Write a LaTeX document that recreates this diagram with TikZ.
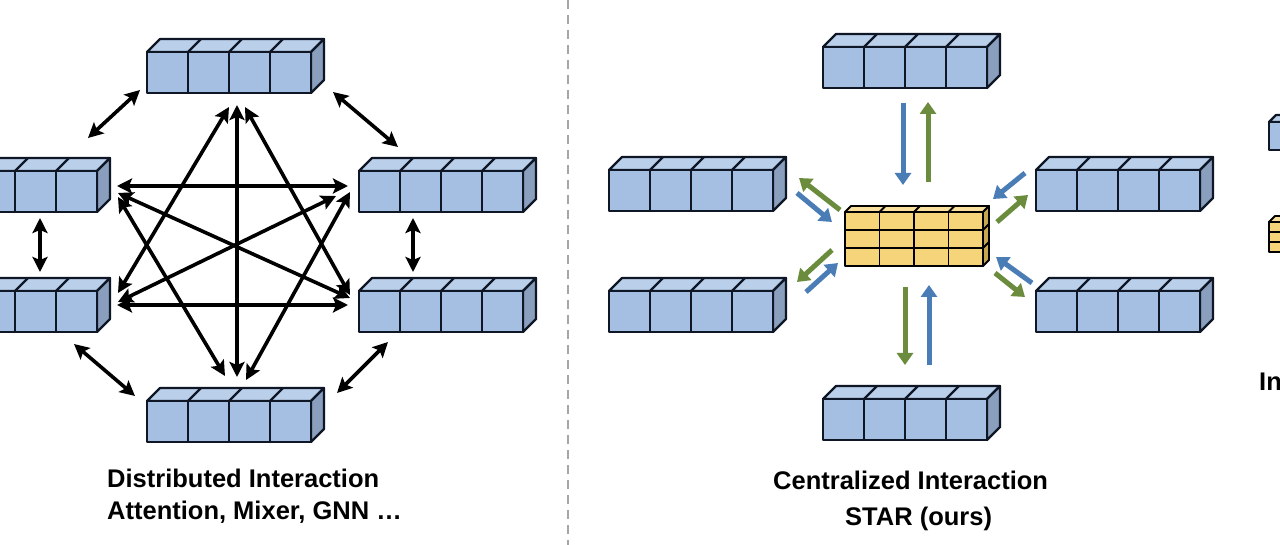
\documentclass[tikz,border=0pt]{standalone}
\usepackage{fontspec}
\setmainfont{Liberation Sans}
\usetikzlibrary{arrows.meta}
\definecolor{bfront}{HTML}{A5BFE2}
\definecolor{btop}{HTML}{BACFEA}
\definecolor{bside}{HTML}{899FBD}
\definecolor{yfront}{HTML}{F6D57A}
\definecolor{ytop}{HTML}{F9E19D}
\definecolor{yside}{HTML}{C7A650}
\definecolor{edgec}{HTML}{0F1726}
\definecolor{arrblue}{HTML}{4A7DB6}
\definecolor{arrgreen}{HTML}{6A8C3C}
\tikzset{
  bluefront/.style={fill=bfront,draw=edgec,line width=2.2pt,line join=round},
  bluetop/.style={fill=btop,draw=edgec,line width=2.2pt,line join=round},
  blueside/.style={fill=bside,draw=edgec,line width=2.2pt,line join=round},
  bluelin/.style={draw=edgec,line width=2.2pt},
  yellowfront/.style={fill=yfront,draw=black,line width=1.9pt,line join=round},
  yellowtop/.style={fill=ytop,draw=black,line width=1.9pt,line join=round},
  yellowside/.style={fill=yside,draw=black,line width=1.9pt,line join=round},
  yellowlin/.style={draw=black,line width=1.9pt},
  blk/.style={line width=3.6pt,black,{Stealth[length=15pt,width=15pt,inset=3pt]}-{Stealth[length=15pt,width=15pt,inset=3pt]}},
  bluearr/.style={line width=5pt,arrblue,-{Triangle[length=12pt,width=16pt]}},
  greenarr/.style={line width=5pt,arrgreen,-{Triangle[length=12pt,width=16pt]}},
  lbl/.style={font=\fontsize{25.5}{30}\selectfont\bfseries,inner sep=0pt,anchor=base west},
  sep/.style={draw=gray!70,line width=2pt,dash pattern=on 9pt off 6pt}
}
% #1 x, #2 y (front top-left), #3 cols, #4 rows, #5 cell w, #6 cell h, #7 depth, #8 style prefix
\newcommand\cuboid[8]{%
  \pgfmathsetmacro\cbW{#3*#5}%
  \pgfmathsetmacro\cbH{#4*#6}%
  \path[#8top] (#1,#2) -- ++(#7,-#7) -- ++(\cbW,0) -- ++(-#7,#7) -- cycle;
  \path[#8side] (#1+\cbW,#2) -- ++(#7,-#7) -- ++(0,\cbH) -- ++(-#7,#7) -- cycle;
  \foreach \ci in {1,...,#3}{\foreach \cj in {1,...,#4}{%
    \path[#8front] ({#1+(\ci-1)*#5},{#2+(\cj-1)*#6}) rectangle ++(#5,#6);}}
  \pgfmathtruncatemacro\cbn{#3-1}%
  \foreach \ci in {1,...,\cbn}{\path[#8lin] ({#1+\ci*#5},#2) -- ++(#7,-#7);}
  \pgfmathtruncatemacro\cbm{#4-1}%
  \ifnum\cbm>0
    \foreach \cj in {1,...,\cbm}{\path[#8lin] ({#1+\cbW},{#2+\cj*#6}) -- ++(#7,-#7);}
  \fi
}
\begin{document}
\begin{tikzpicture}[x=1pt,y=-1pt]
\useasboundingbox (0,0) rectangle (1280,545);
\clip (0,0) rectangle (1280,545);
\fill[white] (0,0) rectangle (1280,545);

% separator
\coordinate (septop) at (568,0);
\coordinate (sepbot) at (568,545);
\draw[sep] (septop) -- (sepbot);

% ---------------- left: distributed ----------------
\cuboid{147}{52}{4}{1}{41}{41}{13}{blue}
\cuboid{-67}{171}{4}{1}{41}{41}{13}{blue}
\cuboid{359}{171}{4}{1}{41}{41}{13}{blue}
\cuboid{-67}{291}{4}{1}{41}{41}{13}{blue}
\cuboid{359}{291}{4}{1}{41}{41}{13}{blue}
\cuboid{147}{401}{4}{1}{41}{41}{13}{blue}

% outer arrows
\coordinate (o1a) at (88,138);  \coordinate (o1b) at (140,90);
\coordinate (o2a) at (333,92);  \coordinate (o2b) at (398,147);
\coordinate (o3a) at (40,218);  \coordinate (o3b) at (40,272);
\coordinate (o4a) at (413,218); \coordinate (o4b) at (413,272);
\coordinate (o5a) at (74,344);  \coordinate (o5b) at (135,396);
\coordinate (o6a) at (337,393); \coordinate (o6b) at (388,342);
\draw[blk] (o1a) -- (o1b);
\draw[blk] (o2a) -- (o2b);
\draw[blk] (o3a) -- (o3b);
\draw[blk] (o4a) -- (o4b);
\draw[blk] (o5a) -- (o5b);
\draw[blk] (o6a) -- (o6b);

% inner star
\coordinate (h1a) at (117,186); \coordinate (h1b) at (348,186);
\coordinate (h2a) at (117,305); \coordinate (h2b) at (348,305);
\coordinate (va) at (237,105);  \coordinate (vb) at (237,377);
\coordinate (t1a) at (229,107); \coordinate (t1b) at (118,293);
\coordinate (t2a) at (245,107); \coordinate (t2b) at (350,295);
\coordinate (x1a) at (118,193); \coordinate (x1b) at (350,298);
\coordinate (x2a) at (118,302); \coordinate (x2b) at (336,196);
\coordinate (b1a) at (225,376); \coordinate (b1b) at (118,197);
\coordinate (b2a) at (246,380); \coordinate (b2b) at (350,192);
\draw[blk] (h1a) -- (h1b);
\draw[blk] (h2a) -- (h2b);
\draw[blk] (va) -- (vb);
\draw[blk] (t1a) -- (t1b);
\draw[blk] (t2a) -- (t2b);
\draw[blk] (x1a) -- (x1b);
\draw[blk] (x2a) -- (x2b);
\draw[blk] (b1a) -- (b1b);
\draw[blk] (b2a) -- (b2b);

\node[lbl] (dist) at (107,487) {Distributed Interaction};
\node[lbl] (attn) at (107,519) {Attention, Mixer, GNN …};

% ---------------- right: centralized ----------------
\cuboid{823}{47}{4}{1}{41}{41}{13}{blue}
\cuboid{609}{170}{4}{1}{41}{41}{13}{blue}
\cuboid{609}{291}{4}{1}{41}{41}{13}{blue}
\cuboid{1036}{170}{4}{1}{41}{41}{13}{blue}
\cuboid{1036}{291}{4}{1}{41}{41}{13}{blue}
\cuboid{823}{399}{4}{1}{41}{41}{13}{blue}
\cuboid{845}{212}{4}{3}{34.5}{18}{6}{yellow}

\coordinate (rt1a) at (903,103);  \coordinate (rt1b) at (903,185);
\coordinate (rt2a) at (928,182);  \coordinate (rt2b) at (928,102);
\coordinate (rb1a) at (905,287);  \coordinate (rb1b) at (905,365);
\coordinate (rb2a) at (929,365);  \coordinate (rb2b) at (929,285);
\coordinate (lu1a) at (840,210);  \coordinate (lu1b) at (799,178);
\coordinate (lu2a) at (797,193);  \coordinate (lu2b) at (832,222);
\coordinate (ll1a) at (832,250);  \coordinate (ll1b) at (797,282);
\coordinate (ll2a) at (806,292);  \coordinate (ll2b) at (838,263);
\coordinate (ru1a) at (1025,173); \coordinate (ru1b) at (993,199);
\coordinate (ru2a) at (997,222);  \coordinate (ru2b) at (1028,195);
\coordinate (rl1a) at (1032,283); \coordinate (rl1b) at (996,257);
\coordinate (rl2a) at (995,273);  \coordinate (rl2b) at (1025,297);
\draw[bluearr] (rt1a) -- (rt1b);
\draw[greenarr] (rt2a) -- (rt2b);
\draw[greenarr] (rb1a) -- (rb1b);
\draw[bluearr] (rb2a) -- (rb2b);
\draw[greenarr] (lu1a) -- (lu1b);
\draw[bluearr] (lu2a) -- (lu2b);
\draw[greenarr] (ll1a) -- (ll1b);
\draw[bluearr] (ll2a) -- (ll2b);
\draw[bluearr] (ru1a) -- (ru1b);
\draw[greenarr] (ru2a) -- (ru2b);
\draw[bluearr] (rl1a) -- (rl1b);
\draw[greenarr] (rl2a) -- (rl2b);

\node[lbl] (cent) at (773,489) {Centralized Interaction};
\node[lbl] (star) at (845,525) {STAR (ours)};

% ---------------- legend (cut off) ----------------
\cuboid{1269}{122}{2}{1}{28}{28}{7}{blue}
\cuboid{1269}{222}{2}{3}{28}{10}{6}{yellow}
\node[lbl] (legtxt) at (1259,390) {In};
\end{tikzpicture}
\end{document}
